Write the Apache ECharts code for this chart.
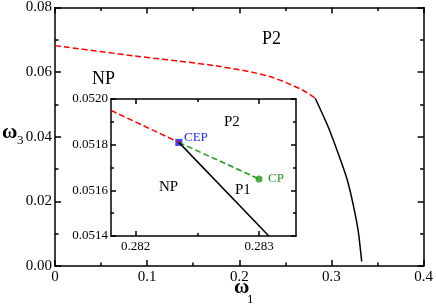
<!DOCTYPE html>
<html><head><meta charset="utf-8">
<script src="https://cdn.jsdelivr.net/npm/echarts@6/dist/echarts.min.js"></script>
<style>
html,body{margin:0;padding:0;background:#fff}
#wrap{position:relative;width:436px;height:304px}
#c{width:436px;height:304px}
.t{position:absolute;font-family:"Liberation Serif",serif;line-height:1;color:#000;white-space:nowrap}
</style>
</head><body><div id="wrap"><div id="c"></div></div>
<script>
// ---- data ----
const mainXTicks = [0, 0.1, 0.2, 0.3, 0.4];
const mainYTicks = [0.00, 0.02, 0.04, 0.06, 0.08];
// NP-P2 boundary (red dashed), main panel
const redMainW1 = [0, 0.084, 0.178, 0.232, 0.2676, 0.2824];
const redMainW3 = [0.0682, 0.0651, 0.0618, 0.0587, 0.0546, 0.0519];
// NP-P1 boundary (black solid), main panel
const blackMainW1 = [0.2824, 0.2968, 0.3076, 0.3168, 0.3238, 0.3292, 0.3328];
const blackMainW3 = [0.0519, 0.0428, 0.0346, 0.0270, 0.0187, 0.0105, 0.0014];
// inset
const insetXLabels = [0.282, 0.283];
const insetXMinor = [0.2825];
const insetYTicks = [0.0514, 0.0516, 0.0518, 0.0520];
const redInsetW1 = [0.2818, 0.28235];
const redInsetW3 = [0.05195, 0.05181];
const greenInsetW1 = [0.28235, 0.2830];
const greenInsetW3 = [0.05181, 0.05165];
const blackInsetW1 = [0.28235, 0.28308];
const blackInsetW3 = [0.05181, 0.0514];
const cepPoint = [0.28235, 0.05181];
const cpPoint = [0.2830, 0.05165];
// text annotations
const annotations = [
  {text: 'P2', left: 262, top: 28.5, size: 18},
  {text: 'NP', left: 92, top: 68.5, size: 18},
  {text: 'P2', left: 224, top: 114, size: 15},
  {text: 'NP', left: 159, top: 179, size: 15},
  {text: 'P1', left: 235, top: 181.5, size: 15},
  {text: 'CEP', left: 184, top: 130, size: 13, color: '#2a2aff'},
  {text: 'CP', left: 268, top: 170.5, size: 13, color: '#1f9a1f'},
  {text: 'ω', left: 234, top: 276, size: 21, bold: true},
  {text: '1', left: 247, top: 291.5, size: 13},
  {text: 'ω', left: 2, top: 121, size: 21, bold: true},
  {text: '3', left: 17, top: 133, size: 13}
];

const zip = (a, b) => a.map((v, i) => [v, b[i]]);
const FONT = 'Liberation Serif';
const ls = () => ({color: '#000', width: 1.5});

const chart = echarts.init(document.getElementById('c'), null, {renderer: 'canvas'});

function mainX(pos, labels) {
  return {
    type: 'value', gridIndex: 0, position: pos, min: 0, max: 0.4, interval: 0.1,
    axisLine: {show: true, onZero: false, lineStyle: ls()},
    axisTick: {show: true, inside: true, length: 6, lineStyle: ls()},
    minorTick: {show: true, splitNumber: 2, length: 3.5, lineStyle: ls()},
    splitLine: {show: false}, minorSplitLine: {show: false},
    axisLabel: {show: labels, margin: 4, color: '#000', fontFamily: FONT, fontSize: 15,
      formatter: v => (Math.abs(v) < 1e-9 ? '0' : String(+v.toFixed(1)))}
  };
}
function mainY(pos, labels) {
  return {
    type: 'value', gridIndex: 0, position: pos, min: 0, max: 0.08, interval: 0.02,
    axisLine: {show: true, onZero: false, lineStyle: ls()},
    axisTick: {show: true, inside: true, length: 6, lineStyle: ls()},
    minorTick: {show: true, splitNumber: 2, length: 3.5, lineStyle: ls()},
    splitLine: {show: false}, minorSplitLine: {show: false},
    axisLabel: {show: labels, margin: 3, color: '#000', fontFamily: FONT, fontSize: 15,
      formatter: v => v.toFixed(2)}
  };
}
function insetX(pos, ticks, len, labels, line) {
  const ax = {
    type: 'value', gridIndex: 1, position: pos, min: 0.2818, max: 0.2833,
    axisLine: {show: line, onZero: false, lineStyle: ls()},
    axisTick: {show: true, inside: true, length: len, customValues: ticks, lineStyle: ls()},
    splitLine: {show: false},
    axisLabel: {show: labels, margin: 4, color: '#000', fontFamily: FONT, fontSize: 13,
      formatter: v => v.toFixed(3)}
  };
  if (labels) ax.axisLabel.customValues = insetXLabels;
  return ax;
}
function insetY(pos, labels) {
  return {
    type: 'value', gridIndex: 1, position: pos, min: 0.0514, max: 0.0520, interval: 0.0002,
    axisLine: {show: true, onZero: false, lineStyle: ls()},
    axisTick: {show: true, inside: true, length: 5, lineStyle: ls()},
    minorTick: {show: true, splitNumber: 2, length: 3, lineStyle: ls()},
    splitLine: {show: false}, minorSplitLine: {show: false},
    axisLabel: {show: labels, margin: 3, color: '#000', fontFamily: FONT, fontSize: 13,
      formatter: v => v.toFixed(4)}
  };
}

const dashed = (color) => ({color: color, width: 1.5, type: 'dashed'});

chart.setOption({
  animation: false,
  backgroundColor: '#fff',
  grid: [
    {left: 55, right: 10, top: 6, bottom: 38, show: false},
    {left: 111, top: 99, width: 185, height: 137, show: true, backgroundColor: '#fff', borderWidth: 0}
  ],
  xAxis: [
    mainX('bottom', true),
    mainX('top', false),
    insetX('bottom', insetXLabels, 5, true, true),
    insetX('bottom', insetXMinor, 3, false, false),
    insetX('top', insetXLabels, 5, false, true),
    insetX('top', insetXMinor, 3, false, false)
  ],
  yAxis: [
    mainY('left', true),
    mainY('right', false),
    insetY('left', true),
    insetY('right', false)
  ],
  series: [
    {type: 'line', xAxisIndex: 0, yAxisIndex: 0, data: zip(redMainW1, redMainW3), smooth: 0.3,
      showSymbol: false, lineStyle: dashed('#ff0000')},
    {type: 'line', xAxisIndex: 0, yAxisIndex: 0, data: zip(blackMainW1, blackMainW3), smooth: 0.2,
      showSymbol: false, lineStyle: {color: '#000', width: 1.5}},
    {type: 'line', xAxisIndex: 2, yAxisIndex: 2, data: zip(redInsetW1, redInsetW3),
      showSymbol: false, lineStyle: dashed('#ff0000')},
    {type: 'line', xAxisIndex: 2, yAxisIndex: 2, data: zip(greenInsetW1, greenInsetW3),
      showSymbol: false, lineStyle: dashed('#1f9a1f')},
    {type: 'line', xAxisIndex: 2, yAxisIndex: 2, data: zip(blackInsetW1, blackInsetW3),
      showSymbol: false, lineStyle: {color: '#000', width: 1.5}},
    {type: 'scatter', xAxisIndex: 2, yAxisIndex: 2, data: [cepPoint], symbol: 'rect', symbolSize: 7,
      itemStyle: {color: '#1010ff'}},
    {type: 'scatter', xAxisIndex: 2, yAxisIndex: 2, data: [cpPoint], symbol: 'circle', symbolSize: 7,
      itemStyle: {color: '#1f9a1f'}}
  ]
});

const wrap = document.getElementById('wrap');
annotations.forEach(a => {
  const d = document.createElement('div');
  d.className = 't';
  d.textContent = a.text;
  d.style.left = a.left + 'px';
  d.style.top = a.top + 'px';
  d.style.fontSize = a.size + 'px';
  if (a.bold) d.style.fontWeight = 'bold';
  if (a.color) d.style.color = a.color;
  wrap.appendChild(d);
});
</script></body></html>
